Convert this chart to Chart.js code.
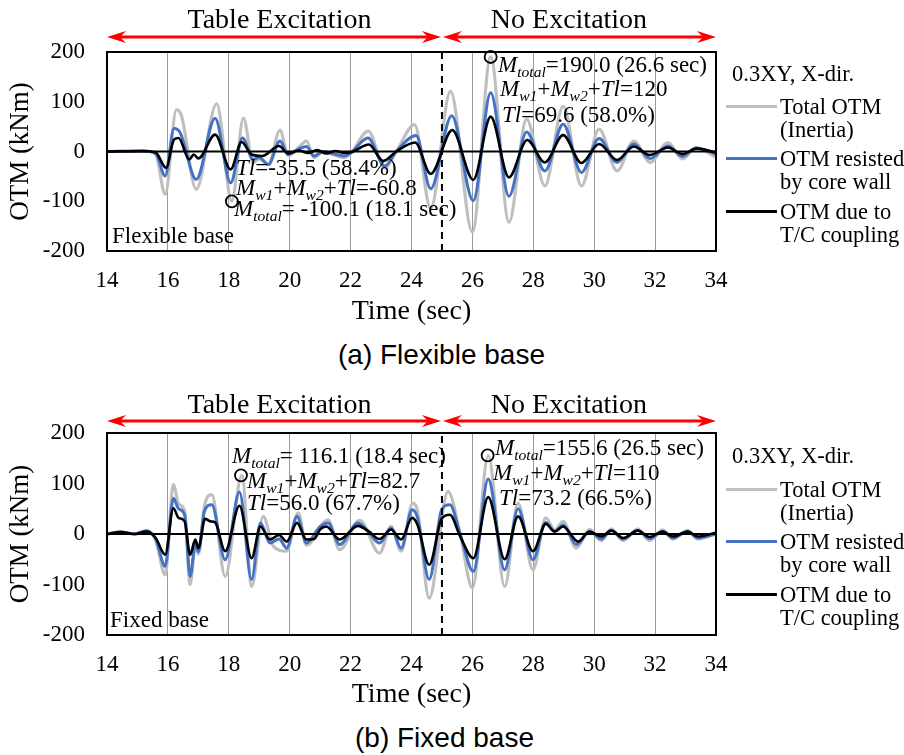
<!DOCTYPE html>
<html>
<head>
<meta charset="utf-8">
<script src="https://cdn.jsdelivr.net/npm/chart.js@4.4.0/dist/chart.umd.min.js"></script>
<style>
  body { margin: 0; background: #fff; width: 904px; height: 755px; position: relative; overflow: hidden;
         font-family: "Liberation Serif", "Times New Roman", serif; color: #000; }
  canvas { position: absolute; left: 0; }
  .t { position: absolute; font-size: 23px; line-height: 22px; white-space: nowrap; }
  .t sub { font-size: 0.68em; vertical-align: -0.35em; line-height: 0; }
  .lg { font-size: 22.5px; }
  .cap { position: absolute; font-family: "Liberation Sans", Arial, sans-serif; font-size: 28px; line-height: 28px; white-space: nowrap; }
  .ln { position: absolute; left: 726px; width: 51px; height: 3px; }
</style>
</head>
<body>
<canvas id="chartFlex" width="904" height="330" style="top:0"></canvas>
<canvas id="chartFixed" width="904" height="330" style="top:381px"></canvas>

<!-- (a) flexible base -->
<div class="t" style="left:112px;top:225px">Flexible base</div>
<div class="t" style="left:236px;top:157px"><i>Tl</i>=-35.5 (58.4%)</div>
<div class="t" style="left:236px;top:177px"><i>M</i><sub><i>w1</i></sub>+<i>M</i><sub><i>w2</i></sub>+<i>Tl</i>=-60.8</div>
<div class="t" style="left:234px;top:198px"><i>M</i><sub><i>total</i></sub>= -100.1 (18.1 sec)</div>
<div class="t" style="left:498px;top:54px"><i>M</i><sub><i>total</i></sub>=190.0 (26.6 sec)</div>
<div class="t" style="left:500px;top:78px"><i>M</i><sub><i>w1</i></sub>+<i>M</i><sub><i>w2</i></sub>+<i>Tl</i>=120</div>
<div class="t" style="left:502px;top:104px"><i>Tl</i>=69.6 (58.0%)</div>

<div class="t lg" style="left:732px;top:63px">0.3XY, X-dir.</div>
<div class="ln" style="top:105px;background:#bfbfbf"></div>
<div class="t lg" style="left:780px;top:96px">Total OTM</div>
<div class="t lg" style="left:780px;top:119px">(Inertia)</div>
<div class="ln" style="top:157px;background:#4472c4"></div>
<div class="t lg" style="left:780px;top:148px">OTM resisted</div>
<div class="t lg" style="left:780px;top:171px">by core wall</div>
<div class="ln" style="top:210px;background:#000"></div>
<div class="t lg" style="left:780px;top:201px">OTM due to</div>
<div class="t lg" style="left:780px;top:224px">T/C coupling</div>
<div class="cap" style="left:338px;top:341px">(a) Flexible base</div>

<!-- (b) fixed base -->
<div class="t" style="left:110px;top:609px">Fixed base</div>
<div class="t" style="left:232px;top:445px"><i>M</i><sub><i>total</i></sub>= 116.1 (18.4 sec)</div>
<div class="t" style="left:247px;top:470px"><i>M</i><sub><i>w1</i></sub>+<i>M</i><sub><i>w2</i></sub>+<i>Tl</i>=82.7</div>
<div class="t" style="left:247px;top:492px"><i>Tl</i>=56.0 (67.7%)</div>
<div class="t" style="left:495px;top:437px"><i>M</i><sub><i>total</i></sub>=155.6 (26.5 sec)</div>
<div class="t" style="left:493px;top:462px"><i>M</i><sub><i>w1</i></sub>+<i>M</i><sub><i>w2</i></sub>+<i>Tl</i>=110</div>
<div class="t" style="left:499px;top:487px"><i>Tl</i>=73.2 (66.5%)</div>

<div class="t lg" style="left:732px;top:445px">0.3XY, X-dir.</div>
<div class="ln" style="top:488px;background:#bfbfbf"></div>
<div class="t lg" style="left:780px;top:479px">Total OTM</div>
<div class="t lg" style="left:780px;top:502px">(Inertia)</div>
<div class="ln" style="top:540px;background:#4472c4"></div>
<div class="t lg" style="left:780px;top:531px">OTM resisted</div>
<div class="t lg" style="left:780px;top:554px">by core wall</div>
<div class="ln" style="top:593px;background:#000"></div>
<div class="t lg" style="left:780px;top:584px">OTM due to</div>
<div class="t lg" style="left:780px;top:607px">T/C coupling</div>
<div class="cap" style="left:355px;top:724px">(b) Fixed base</div>

<script>
/* ── Data: (a) Flexible base ── */
const flexTotalT = [14, 15.2, 15.6, 15.91, 16.28, 16.45, 16.93, 17.6, 18.1, 18.48, 18.8, 19.0, 19.3, 19.68, 19.95, 20.2, 20.55, 20.8, 21.1, 21.4, 21.8, 22.0, 22.58, 23.12, 23.5, 24.1, 24.63, 25.28, 26.0, 26.6, 27.2, 27.78, 28.38, 28.98, 29.58, 30.16, 30.75, 31.3, 31.84, 32.42, 32.9, 33.35, 34];
const flexTotalV = [0, 1, -6, -86, 84, 71, -76, 96, -100, 67, -23, -15, -26, 43, -8, 2, 21, -12, 0, -6, -12, -4, 41, -33, 0, 54, -115, 121, -162, 190, -142, 65, -69, 91, -69, 45, -39, 21, -22, 18, -15, 8, -12];

const flexWallT = [14, 15.2, 15.6, 15.91, 16.2, 16.4, 16.93, 17.55, 18.06, 18.45, 18.8, 19.0, 19.3, 19.68, 19.95, 20.2, 20.55, 20.8, 21.1, 21.4, 21.8, 22.0, 22.57, 23.12, 23.5, 24.15, 24.63, 25.32, 26.03, 26.6, 27.2, 27.78, 28.38, 28.98, 29.58, 30.16, 30.75, 31.3, 31.84, 32.42, 32.9, 33.35, 34];
const flexWallV = [0, 1, -4, -49, 46, 38, -56, 67, -63, 27, -16, -12, -26, 21, -6, 2, 10, -9, 0, -4, -9, -3, 27, -29, 0, 32, -75, 72, -99, 118, -90, 39, -39, 55, -42, 26, -22, 15, -14, 11, -10, 7, -5];

const flexTcT = [14, 15.2, 15.6, 15.94, 16.2, 16.35, 16.7, 16.85, 17.0, 17.55, 18.06, 18.42, 18.75, 19.1, 19.65, 19.95, 20.3, 20.6, 20.9, 21.2, 21.5, 21.8, 22.05, 22.6, 23.07, 23.5, 24.12, 24.63, 25.34, 26.03, 26.6, 27.2, 27.8, 28.38, 28.98, 29.58, 30.16, 30.75, 31.3, 31.82, 32.42, 32.9, 33.35, 34];
const flexTcV = [0, 1, -2, -33, 24, 27, -16, -6, -14, 34, -36, 19, -6, -9, 11, -4, 2, -3, 3, -4, 1, -3, -1, 14, -19, 0, 18, -45, 43, -57, 70, -52, 23, -22, 33, -23, 15, -17, 10, -7, 8, -5, 6, -2];

const flexMarkT = [18.1, 26.6];
const flexMarkV = [-100.1, 190.0];

/* ── Data: (b) Fixed base ── */
const fixTotalT = [14, 14.45, 14.9, 15.3, 15.6, 15.91, 16.18, 16.35, 16.55, 16.73, 16.9, 17.0, 17.2, 17.44, 17.88, 18.43, 18.75, 19.13, 19.46, 19.9, 20.28, 20.55, 21.26, 21.64, 22.3, 22.95, 23.33, 23.66, 24.04, 24.2, 24.58, 25.2, 25.6, 26.0, 26.52, 27.06, 27.5, 27.99, 28.41, 28.7, 28.98, 29.41, 29.85, 30.23, 30.56, 30.95, 31.43, 31.82, 32.25, 32.58, 33.07, 33.4, 34];
const fixTotalV = [0, 4, 0, 7, -12, -81, 98, 60, 45, -100, -25, -40, 55, 78, -84, 116, -104, 35, -24, -34, 42, -22, 28, -31, 27, -38, 15, -34, 61, 45, -127, 84, 0, -107, 155, -104, 61, -71, 32, 8, 25, -28, 9, -13, 10, -13, 10, -13, 8, -10, 7, -10, 0];

const fixWallT = [14, 14.45, 14.9, 15.3, 15.6, 15.91, 16.18, 16.35, 16.55, 16.73, 16.9, 17.0, 17.2, 17.44, 17.88, 18.35, 18.75, 19.04, 19.35, 19.65, 19.9, 20.24, 20.55, 21.0, 21.26, 21.64, 22.24, 22.6, 22.95, 23.33, 23.66, 24.02, 24.2, 24.58, 24.99, 25.26, 25.6, 26.03, 26.52, 27.06, 27.5, 27.99, 28.41, 28.7, 28.98, 29.41, 29.85, 30.23, 30.56, 30.95, 31.43, 31.82, 32.25, 32.58, 33.07, 33.4, 34];
const fixWallV = [0, 4, 0, 6, -10, -64, 71, 50, 38, -84, -20, -35, 45, 58, -51, 83, -90, 22, -18, -10, -28, 35, -18, 15, 22, -21, 22, 3, -18, 12, -28, 48, 32, -90, 48, 58, 0, -74, 109, -71, 50, -51, 23, 5, 18, -21, 5, -10, 7, -10, 7, -9, 5, -8, 5, -8, 0];

const fixTcT = [14, 14.45, 14.9, 15.3, 15.6, 15.91, 16.18, 16.35, 16.55, 16.73, 16.9, 17.0, 17.22, 17.4, 17.55, 17.88, 18.35, 18.75, 19.04, 19.35, 19.65, 19.9, 20.24, 20.55, 20.8, 21.0, 21.2, 21.64, 22.24, 22.6, 22.95, 23.33, 23.66, 24.02, 24.2, 24.58, 24.99, 25.26, 25.6, 26.03, 26.52, 27.06, 27.5, 27.99, 28.41, 28.7, 28.98, 29.47, 29.85, 30.23, 30.56, 30.95, 31.43, 31.82, 32.25, 32.58, 33.07, 33.4, 34];
const fixTcV = [0, 4, 0, 5, -8, -41, 51, 32, 25, -41, -11, -28, 30, 25, 23, -34, 56, -48, 15, -11, -2, -15, 22, -11, -10, 9, 15, -11, 16, 5, -10, 9, -11, 32, 18, -61, 30, 38, -5, -48, 73, -50, 35, -34, 20, 5, 15, -15, 5, -5, 7, -8, 7, -6, 5, -5, 5, -5, 3];

const fixMarkT = [18.4, 26.5];
const fixMarkV = [116.1, 155.6];

/* ── Axes ── */
const timeTicks = [14, 16, 18, 20, 22, 24, 26, 28, 30, 32, 34];
const otmTicks = [-200, -100, 0, 100, 200];
const excitationEnd = 25;
const phaseLabels = ['Table Excitation', 'No Excitation'];

const Charts = {};
const SERIF = '"Liberation Serif", "Times New Roman", serif';
const pts = (t, v) => t.map((x, i) => ({ x, y: v[i] }));

function lineSet(t, v, color, width, order) {
  return { data: pts(t, v), borderColor: color, borderWidth: width, pointRadius: 0,
           cubicInterpolationMode: 'monotone', fill: false, order };
}

function head(ctx, xt, dir, yy) {
  ctx.beginPath();
  ctx.moveTo(xt, yy);
  ctx.lineTo(xt + dir * 19, yy - 6);
  ctx.lineTo(xt + dir * 13, yy);
  ctx.lineTo(xt + dir * 19, yy + 6);
  ctx.closePath();
  ctx.fill();
}

/* frame, zero line, red phase arrows */
const framePlugin = {
  id: 'frame',
  afterDatasetsDraw(chart, args, opts) {
    const { ctx, chartArea: a, scales: { x, y } } = chart;
    ctx.save();
    ctx.strokeStyle = '#000';
    ctx.lineWidth = 2;
    const y0 = y.getPixelForValue(0);
    ctx.beginPath(); ctx.moveTo(a.left, y0); ctx.lineTo(a.right, y0); ctx.stroke();
    ctx.strokeRect(a.left, a.top, a.right - a.left, a.bottom - a.top);

    const xs = [x.getPixelForValue(timeTicks[0]), x.getPixelForValue(excitationEnd), x.getPixelForValue(timeTicks[timeTicks.length - 1])];
    ctx.strokeStyle = '#ff0000';
    ctx.fillStyle = '#ff0000';
    ctx.lineWidth = 3;
    for (let i = 0; i < 2; i++) {
      const x1 = xs[i] + (i ? 1 : 0), x2 = xs[i + 1] - (i ? 0 : 1);
      ctx.beginPath(); ctx.moveTo(x1 + 8, opts.arrowY); ctx.lineTo(x2 - 8, opts.arrowY); ctx.stroke();
      head(ctx, x1, 1, opts.arrowY);
      head(ctx, x2, -1, opts.arrowY);
    }
    ctx.fillStyle = '#000';
    ctx.font = '28px ' + SERIF;
    ctx.textAlign = 'center';
    ctx.textBaseline = 'middle';
    ctx.fillText(phaseLabels[0], (xs[0] + xs[1]) / 2 + 5, opts.labelY);
    ctx.fillText(phaseLabels[1], (xs[1] + xs[2]) / 2 - 10, opts.labelY);
    ctx.restore();
  }
};

function buildChart(id, s, geo) {
  const el = document.getElementById(id);
  return new Chart(el, {
    type: 'line',
    data: {
      datasets: [
        { data: pts(s.markT, s.markV), showLine: false, pointRadius: 6, pointBorderWidth: 1.8,
          pointBorderColor: '#000', pointBackgroundColor: 'rgba(0,0,0,0)', clip: false, order: 0 },
        { data: [{ x: excitationEnd, y: otmTicks[0] }, { x: excitationEnd, y: otmTicks[4] }],
          borderColor: '#000', borderWidth: 2, borderDash: [7, 5], pointRadius: 0, order: 1 },
        lineSet(s.tcT, s.tcV, '#000000', 2.6, 2),
        lineSet(s.wallT, s.wallV, '#4472c4', 3, 3),
        lineSet(s.totalT, s.totalV, '#bfbfbf', 3.2, 4),
      ],
    },
    options: {
      responsive: false,
      animation: false,
      layout: { padding: { top: 52, right: 188, left: 0, bottom: 0 } },
      plugins: { legend: { display: false }, tooltip: { enabled: false },
                 frame: { arrowY: geo.arrowY, labelY: geo.labelY } },
      scales: {
        x: {
          type: 'linear', min: 14, max: 34,
          afterBuildTicks: sc => { sc.ticks = timeTicks.map(v => ({ value: v })); },
          afterFit: sc => { sc.height = geo.xh; },
          border: { display: false },
          grid: { drawTicks: false, lineWidth: 1,
                  color: c => (c.tick && (c.tick.value === 14 || c.tick.value === 34)) ? 'rgba(0,0,0,0)' : '#9a9a9a' },
          ticks: { color: '#000', padding: 16, maxRotation: 0, font: { family: SERIF, size: 23 } },
          title: { display: true, text: 'Time (sec)', color: '#000', font: { family: SERIF, size: 28 },
                   padding: { top: 0, bottom: geo.titlePad } },
        },
        y: {
          min: -200, max: 200,
          afterBuildTicks: sc => { sc.ticks = otmTicks.map(v => ({ value: v })); },
          afterFit: sc => { sc.width = 107; },
          border: { display: false },
          grid: { drawTicks: false, color: 'rgba(0,0,0,0)' },
          ticks: { color: '#000', padding: 22, font: { family: SERIF, size: 23 } },
          title: { display: true, text: 'OTM (kNm)', color: '#000', font: { family: SERIF, size: 27 },
                   padding: { top: 5, bottom: 0 } },
        },
      },
    },
    plugins: [framePlugin],
  });
}

Charts.flex = buildChart('chartFlex',
  { totalT: flexTotalT, totalV: flexTotalV, wallT: flexWallT, wallV: flexWallV,
    tcT: flexTcT, tcV: flexTcV, markT: flexMarkT, markV: flexMarkV },
  { xh: 79, titlePad: 2, arrowY: 37, labelY: 21 });

Charts.fixed = buildChart('chartFixed',
  { totalT: fixTotalT, totalV: fixTotalV, wallT: fixWallT, wallV: fixWallV,
    tcT: fixTcT, tcV: fixTcV, markT: fixMarkT, markV: fixMarkV },
  { xh: 76, titlePad: 0, arrowY: 40, labelY: 25 });
</script>
</body>
</html>
